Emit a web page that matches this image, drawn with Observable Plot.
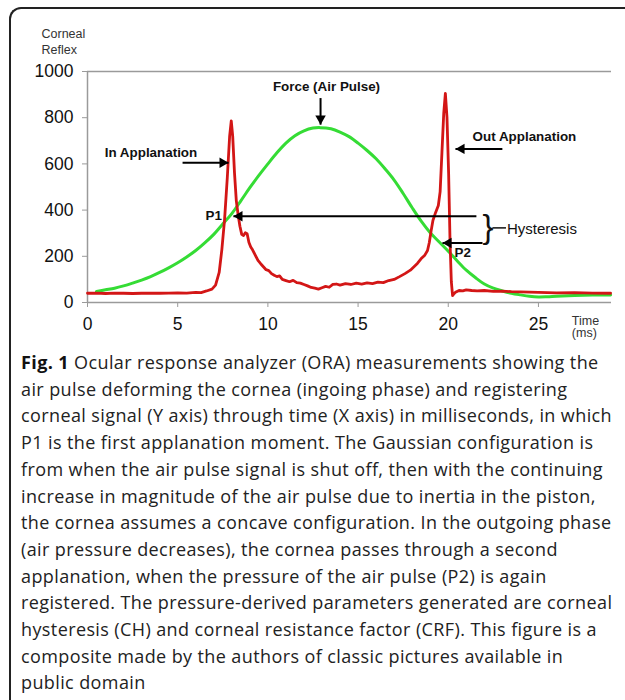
<!DOCTYPE html>
<html><head><meta charset="utf-8">
<script src="https://cdn.jsdelivr.net/npm/d3@7"></script>
<script src="https://cdn.jsdelivr.net/npm/@observablehq/plot@0.6"></script>
<style>
html,body{margin:0;padding:0;background:#fff;width:625px;height:700px;overflow:hidden;}
#frame{position:absolute;left:9px;top:7px;width:700px;height:760px;border-left:2px solid #222;border-top:2px solid #222;border-top-left-radius:12px;box-sizing:border-box;}
#chart{position:absolute;left:0;top:0;}
#caption{position:absolute;left:21px;top:349px;font-family:"Open Sans",Lato,sans-serif;font-size:18px;line-height:26.7px;color:#222;white-space:pre;}
#caption b{font-weight:700;color:#111;}
</style>
</head><body>
<div id="frame"></div>
<div id="chart"></div>
<div id="caption"></div>
<script>
// ---- data ----
const forceTime = [0.5,1,1.5,2,2.5,3,3.5,4,4.5,5,5.5,6,6.5,7,7.5,8,8.5,9,9.5,10,10.5,11,11.5,12,12.5,12.9,13.5,14,14.5,15,15.5,16,16.5,17,17.5,18,18.5,19,19.5,20,20.5,21,21.5,22,22.5,23,23.5,24,24.5,25,25.5,26,27,28,29];
const forceValue = [48,55,62,72,84,97,112,130,150,172,197,225,258,295,340,385,440,497,550,600,648,690,722,743,755,757,752,738,718,690,658,622,578,530,472,410,352,302,262,222,180,140,108,80,62,50,40,33,27,24,25,27,30,32,33];

const reflexTime = [0,0.5,1,1.5,2,2.5,3,3.5,4,4.5,5,5.5,6,6.3,6.6,6.9,7.1,7.3,7.45,7.6,7.75,7.88,7.97,8.05,8.15,8.25,8.35,8.45,8.55,8.65,8.75,8.85,8.95,9.05,9.15,9.3,9.45,9.6,9.75,9.9,10.05,10.2,10.35,10.5,10.65,10.8,11,11.2,11.4,11.6,11.8,12,12.2,12.4,12.6,12.8,13,13.2,13.4,13.6,13.8,14,14.3,14.6,14.9,15.2,15.5,15.8,16.1,16.4,16.7,17,17.3,17.6,17.9,18.1,18.3,18.5,18.7,18.85,18.95,19.05,19.15,19.3,19.45,19.55,19.65,19.75,19.84,19.93,20.02,20.1,20.17,20.24,20.32,20.4,20.6,20.8,21,21.3,21.6,22,22.5,23,23.5,24,25,26,27,28,29];
const reflexValue = [40,41,39,41,40,39,40,41,40,41,42,41,44,43,50,58,75,130,230,360,540,720,786,720,560,440,380,330,295,290,302,298,260,240,228,205,182,168,155,142,138,125,118,112,115,100,95,90,96,86,84,78,72,65,62,58,64,70,66,78,80,75,82,78,84,80,85,82,88,86,95,100,112,125,140,155,170,190,205,225,260,310,355,390,420,480,650,820,905,800,560,260,90,30,38,44,52,50,55,52,50,52,48,49,47,46,44,42,43,41,40];

const xTicks = [0,5,10,15,20,25];
const yTicks = [0,200,400,600,800,1000];

const captionLines = [
  "Ocular response analyzer (ORA) measurements showing the",
  "air pulse deforming the cornea (ingoing phase) and registering",
  "corneal signal (Y axis) through time (X axis) in milliseconds, in which",
  "P1 is the first applanation moment. The Gaussian configuration is",
  "from when the air pulse signal is shut off, then with the continuing",
  "increase in magnitude of the air pulse due to inertia in the piston,",
  "the cornea assumes a concave configuration. In the outgoing phase",
  "(air pressure decreases), the cornea passes through a second",
  "applanation, when the pressure of the air pulse (P2) is again",
  "registered. The pressure-derived parameters generated are corneal",
  "hysteresis (CH) and corneal resistance factor (CRF). This figure is a",
  "composite made by the authors of classic pictures available in",
  "public domain"
];

// ---- derived tables ----
const force = forceTime.map((t,i)=>({t, v: forceValue[i]}));
const reflex = reflexTime.map((t,i)=>({t, v: reflexValue[i]}));

// annotation layout (data units)
const boldLabels = [
  {x:13.25, y:933, text:"Force (Air Pulse)", anchor:"middle"},
  {x:3.52, y:648, text:"In Applanation", anchor:"middle"},
  {x:21.35, y:718, text:"Out Applanation", anchor:"start"},
  {x:7.45, y:375, text:"P1", anchor:"end"},
  {x:20.35, y:216, text:"P2", anchor:"start"}
];
const arrows = [
  {x1:12.92, y1:885, x2:12.92, y2:770, dir:"down"},
  {x1:5.27, y1:605, x2:7.82, y2:605, dir:"right"},
  {x1:23.0, y1:665, x2:20.4, y2:665, dir:"left"},
  {x1:21.56, y1:373, x2:8.09, y2:373, dir:"left"},
  {x1:21.9, y1:258, x2:19.68, y2:258, dir:"left"}
];
const r = 5;
const s = r * 1.2095;

const plot = Plot.plot({
  width: 625, height: 340,
  marginLeft: 87, marginRight: 14, marginTop: 71, marginBottom: 38,
  x: {domain: [0, 29.05]},
  y: {domain: [0, 1000]},
  style: {fontFamily: "'Liberation Sans', Arial, sans-serif", fontSize: "17px", color: "#111", background: "transparent", overflow: "visible"},
  marks: [
    Plot.ruleY([1000], {stroke: "#9a9a9a", strokeWidth: 1.5}),
    Plot.ruleY([0], {stroke: "#9a9a9a", strokeWidth: 1.5}),
    Plot.ruleX([0], {stroke: "#9a9a9a", strokeWidth: 1.5}),
    Plot.axisY({ticks: yTicks, tickFormat: d => String(d), tickSize: 5, tickPadding: 9, stroke: "#9a9a9a", fill: "#111", fontSize: 17.5, label: null}),
    Plot.axisX({ticks: xTicks, tickFormat: d => String(d), tickSize: 5, tickPadding: 10, stroke: "#9a9a9a", fill: "#111", fontSize: 17.5, label: null}),
    Plot.text(["Corneal\nReflex"], {x: -2.55, y: 1132, text: d => d, textAnchor: "start", lineAnchor: "middle", fontSize: 12.5, fill: "#333", lineHeight: 1.25}),
    Plot.text(["Time\n(ms)"], {x: 26.85, y: -105, text: d => d, textAnchor: "start", lineAnchor: "middle", fontSize: 12.5, fill: "#333", lineHeight: 1.0}),
    Plot.line(force, {x: "t", y: "v", stroke: "#35dc35", strokeWidth: 3, curve: "catmull-rom"}),
    Plot.line(reflex, {x: "t", y: "v", stroke: "#d31616", strokeWidth: 2.8, curve: "linear"}),
    Plot.link(arrows, {x1: "x1", y1: "y1", x2: "x2", y2: "y2", stroke: "#000", strokeWidth: 2}),
    Plot.dot(arrows.filter(d => d.dir === "right"), {x: "x2", y: "y2", symbol: "triangle2", rotate: 90, r, fill: "#000", stroke: "none", dx: -s}),
    Plot.dot(arrows.filter(d => d.dir === "left"), {x: "x2", y: "y2", symbol: "triangle2", rotate: -90, r, fill: "#000", stroke: "none", dx: s}),
    Plot.dot(arrows.filter(d => d.dir === "down"), {x: "x2", y: "y2", symbol: "triangle2", rotate: 180, r, fill: "#000", stroke: "none", dy: -s}),
    Plot.text(boldLabels, {x: "x", y: "y", text: "text", textAnchor: "middle", fontWeight: "bold", fontSize: 13.4, fill: "#111", filter: d => d.anchor === "middle"}),
    Plot.text(boldLabels, {x: "x", y: "y", text: "text", textAnchor: "start", fontWeight: "bold", fontSize: 13.4, fill: "#111", filter: d => d.anchor === "start"}),
    Plot.text(boldLabels, {x: "x", y: "y", text: "text", textAnchor: "end", fontWeight: "bold", fontSize: 13.4, fill: "#111", filter: d => d.anchor === "end"}),
    Plot.text(["}"], {x: 21.9, y: 323, text: d => d, textAnchor: "start", lineAnchor: "middle", fontSize: 33, fill: "#111"}),
    Plot.link([{x1: 22.45, x2: 23.2, y: 323}], {x1: "x1", x2: "x2", y1: "y", y2: "y", stroke: "#111", strokeWidth: 1.5}),
    Plot.text(["Hysteresis"], {x: 23.25, y: 319, text: d => d, textAnchor: "start", fontSize: 15, fill: "#111"})
  ]
});
document.getElementById("chart").appendChild(plot);

const cap = document.getElementById("caption");
const divs = captionLines.map((line, i) => {
  const div = document.createElement("div");
  if (i === 0) {
    const b = document.createElement("b");
    b.textContent = "Fig. 1 ";
    div.appendChild(b);
  }
  div.appendChild(document.createTextNode(line));
  div.style.display = "block";
  cap.appendChild(div);
  return div;
});
// fit: the third caption line spans about 591px in the reference
const probe = document.createElement("span");
probe.textContent = captionLines[2];
divs[2].textContent = "";
divs[2].appendChild(probe);
const w = probe.getBoundingClientRect().width;
const ls = (591 - w) / captionLines[2].length;
cap.style.letterSpacing = ls.toFixed(3) + "px";
</script>
</body></html>
